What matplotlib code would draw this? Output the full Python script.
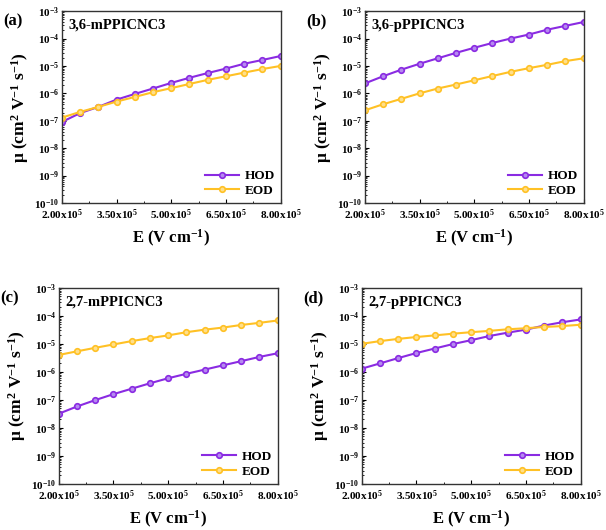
import numpy as np
import matplotlib
matplotlib.use('Agg')
import matplotlib.pyplot as plt
from matplotlib.ticker import FixedLocator, LogLocator, NullFormatter

plt.rcParams['font.family'] = ['Liberation Serif', 'DejaVu Serif']
plt.rcParams['font.weight'] = 'bold'
plt.rcParams['axes.labelweight'] = 'bold'
plt.rcParams['mathtext.fontset'] = 'custom'
plt.rcParams['mathtext.rm'] = 'Liberation Serif:bold'
plt.rcParams['mathtext.it'] = 'Liberation Serif:bold'
plt.rcParams['mathtext.bf'] = 'Liberation Serif:bold'

# electric field (V/cm)
field = [2.0e5, 2.5e5, 3.0e5, 3.5e5, 4.0e5, 4.5e5, 5.0e5, 5.5e5, 6.0e5, 6.5e5, 7.0e5, 7.5e5, 8.0e5]

# mobility values (cm2 V-1 s-1)
hod_a = [9e-8, 1.9e-7, 3.2e-7, 5.9e-7, 9.5e-7, 1.5e-6, 2.4e-6, 3.7e-6, 5.5e-6, 8e-6, 1.2e-5, 1.65e-5, 2.3e-5]
eod_a = [1.3e-7, 2.1e-7, 3.2e-7, 5e-7, 7.4e-7, 1.1e-6, 1.55e-6, 2.2e-6, 3.1e-6, 4.2e-6, 5.7e-6, 7.7e-6, 1e-5]
hod_b = [2.3e-6, 4.2e-6, 7.3e-6, 1.2e-5, 1.9e-5, 3e-5, 4.6e-5, 6.9e-5, 1e-4, 1.4e-4, 2.1e-4, 2.9e-4, 4e-4]
eod_b = [2.4e-7, 4e-7, 6.3e-7, 1e-6, 1.5e-6, 2.1e-6, 3e-6, 4.3e-6, 6.1e-6, 8.3e-6, 1.1e-5, 1.5e-5, 1.9e-5]
hod_c = [3.2e-8, 5.8e-8, 9.8e-8, 1.6e-7, 2.5e-7, 3.9e-7, 5.9e-7, 8.5e-7, 1.2e-6, 1.7e-6, 2.4e-6, 3.4e-6, 4.6e-6]
eod_c = [4e-6, 5.4e-6, 7.2e-6, 9.5e-6, 1.25e-5, 1.6e-5, 2e-5, 2.6e-5, 3.2e-5, 3.8e-5, 4.7e-5, 5.6e-5, 6.8e-5]
hod_d = [1.3e-6, 2e-6, 3.1e-6, 4.7e-6, 6.8e-6, 9.8e-6, 1.35e-5, 1.9e-5, 2.5e-5, 3.2e-5, 4.5e-5, 5.9e-5, 7.4e-5]
eod_d = [1e-5, 1.25e-5, 1.5e-5, 1.75e-5, 2e-5, 2.3e-5, 2.6e-5, 2.9e-5, 3.3e-5, 3.6e-5, 4e-5, 4.3e-5, 4.8e-5]

names = ['3,6-mPPICNC3', '3,6-pPPICNC3', '2,7-mPPICNC3', '2,7-pPPICNC3']
letters = ['(a)', '(b)', '(c)', '(d)']
hod_all = [hod_a, hod_b, hod_c, hod_d]
eod_all = [eod_a, eod_b, eod_c, eod_d]

xticks = [2.0e5, 3.5e5, 5.0e5, 6.5e5, 8.0e5]
xticklabels = [r'2.00x10$^{5}$', r'3.50x10$^{5}$', r'5.00x10$^{5}$', r'6.50x10$^{5}$', r'8.00x10$^{5}$']
yticks = [1e-10, 1e-9, 1e-8, 1e-7, 1e-6, 1e-5, 1e-4, 1e-3]
yticklabels = [r'10$^{%d}$' % e for e in range(-10, -2)]

hod_color = '#8A2BE2'
eod_color = '#FFC125'

fig = plt.figure(figsize=(6.06, 5.30), dpi=100)
positions = [
    [0.102, 0.617, 0.361, 0.362],
    [0.602, 0.617, 0.361, 0.362],
    [0.097, 0.087, 0.361, 0.370],
    [0.597, 0.087, 0.361, 0.370],
]

for i in range(4):
    ax = fig.add_axes(positions[i])
    ax.plot(field, hod_all[i], '-o', color=hod_color, lw=1.5, ms=4,
            mfc='#B58AF0', mec=hod_color, mew=1.2, label='HOD')
    ax.plot(field, eod_all[i], '-o', color=eod_color, lw=1.5, ms=4,
            mfc='#FFDF8A', mec=eod_color, mew=1.2, label='EOD')
    ax.set_yscale('log')
    ax.set_xlim(2.0e5, 8.0e5)
    ax.set_ylim(1e-10, 1e-3)
    ax.set_xticks(xticks)
    ax.set_xticklabels(xticklabels, fontsize=8)
    ax.xaxis.set_minor_locator(FixedLocator([2.75e5, 4.25e5, 5.75e5, 7.25e5]))
    ax.set_yticks(yticks)
    ax.set_yticklabels(yticklabels, fontsize=8)
    ax.yaxis.set_minor_locator(LogLocator(base=10, subs=np.arange(2, 10), numticks=20))
    ax.yaxis.set_minor_formatter(NullFormatter())
    ax.tick_params(which='both', direction='in', top=False, right=False)
    ax.tick_params(axis='x', pad=3.5)
    ax.tick_params(axis='y', pad=2)
    ax.tick_params(which='major', length=3, width=0.8)
    ax.tick_params(which='minor', length=1.5, width=0.6)
    for s in ax.spines.values():
        s.set_linewidth(1.0)
        s.set_color('#333333')
    ax.set_xlabel(r'E (V cm$^{-1}$)', fontsize=12, fontweight='bold', labelpad=4)
    ax.set_ylabel(r'μ (cm$^{2}$ V$^{-1}$ s$^{-1}$)', fontsize=12.5, fontweight='bold', labelpad=2)
    ax.text(0.03, 0.96, names[i], transform=ax.transAxes, ha='left', va='top',
            fontsize=10.5, fontweight='bold')
    ax.legend(loc='lower right', frameon=False, handlelength=2.6,
              borderaxespad=0.05, labelspacing=0.2, handletextpad=0.4,
              prop={'weight': 'bold', 'size': 9.5})
    fig.text(positions[i][0] - 0.097, positions[i][1] + positions[i][3] - 0.005,
             letters[i], fontsize=12, fontweight='bold', ha='left', va='top')

fig.savefig('out.png', dpi=100)
